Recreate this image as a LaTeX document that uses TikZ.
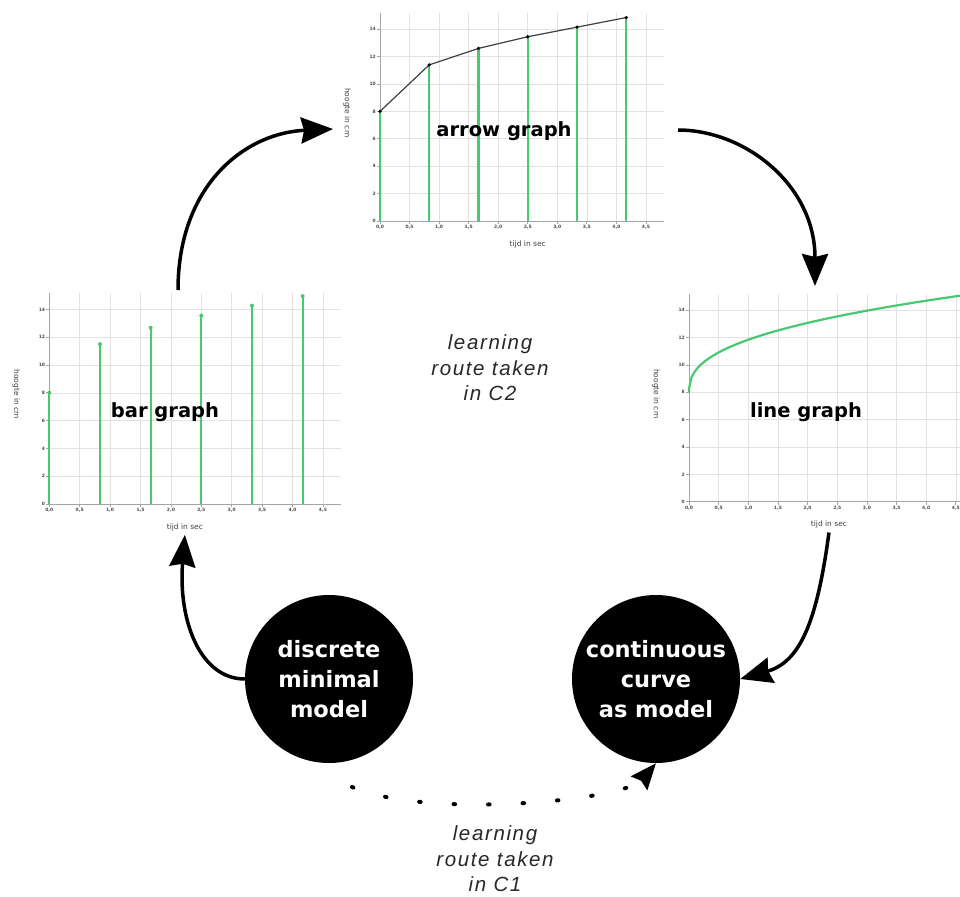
\documentclass[tikz,border=0pt]{standalone}
\usepackage{fontspec}
\setmainfont{DejaVu Sans}
\newfontfamily\routefont[LetterSpace=8.0]{Liberation Sans}
\usetikzlibrary{positioning, arrows.meta}

\definecolor{plotgreen}{RGB}{72,200,112}
\definecolor{gridgray}{RGB}{226,226,226}
\definecolor{axisgray}{RGB}{165,165,165}
\definecolor{routegray}{RGB}{40,40,40}

% grid, axes and tick labels of one small graph
% #1 = x of the axis label, #2 = name of the axis label
\newcommand{\graphframe}[2]{%
  \foreach \gx in {0.5,1,...,4.5}
    \draw[gridline] (\gx,0) -- (\gx,15.2);
  \foreach \gy in {2,4,...,14}
    \draw[gridline] (0,\gy) -- (4.8,\gy);
  \draw[axisline] (0,15.2) -- (0,0) -- (4.8,0);
  \foreach \gx/\gl in {0/{0,0},0.5/{0,5},1/{1,0},1.5/{1,5},2/{2,0},2.5/{2,5},3/{3,0},3.5/{3,5},4/{4,0},4.5/{4,5}} {
    \draw[axisline] (\gx,0) -- +(0,-3pt);
    \node[ticklabel, below=3.5pt] at (\gx,0) {\gl};
  }
  \foreach \gy in {0,2,...,14} {
    \draw[axisline] (0,\gy) -- +(-3pt,0);
    \node[ticklabel, left=3.5pt] at (0,\gy) {\gy};
  }
  \node[axislabel, yshift=-23pt] (#2) at (#1,0) {tijd in sec};
  \node[axislabel, rotate=-90] at ([xshift=-33pt]0,7.9) {hoogte in cm};
}

\begin{document}
\begin{tikzpicture}[
  x=1pt, y=-1pt,
  gridline/.style={gridgray, line width=0.6pt},
  axisline/.style={axisgray, line width=0.8pt},
  ticklabel/.style={font=\fontsize{4.5}{5}\selectfont\bfseries, text=black!70, inner sep=0.5pt},
  axislabel/.style={font=\fontsize{7.5}{8}\selectfont, text=black!75, inner sep=0pt},
  greenbar/.style={plotgreen, line width=2.2pt},
  trendline/.style={black!75, line width=1.2pt},
  graphname/.style={font=\fontsize{19.5}{22}\selectfont\bfseries, inner sep=1pt},
  modelnode/.style={circle, fill=black, minimum size=168pt, inner sep=0pt,
                    align=center, text=white, font=\fontsize{22.5}{30}\selectfont\bfseries},
  routetext/.style={align=center, text=routegray, font=\routefont\fontsize{20.5}{25.5}\selectfont\itshape},
  looparrow/.style={-{Stealth[length=32pt, width=26pt, inset=3pt]}, line width=3.5pt},
  dotroute/.style={-{Stealth[length=26pt, width=21pt, inset=3pt]}, line width=4pt,
                   line cap=round, dash pattern=on 1.5pt off 33pt}
]
  \path[use as bounding box, clip] (0,0) rectangle (960,896);
  \fill[white] (0,0) rectangle (960,896);

  % top: arrow graph
  \begin{scope}[shift={(380,221)}, x=59.1pt, y=13.7pt]
    \graphframe{2.5}{arrowxlabel}
    \foreach \bx/\by in {0/8,0.833/11.4,1.667/12.6,2.5/13.45,3.333/14.15,4.167/14.85}
      \draw[greenbar] (\bx,0) -- (\bx,\by);
    \draw[trendline] (0,8) -- (0.833,11.4) -- (1.667,12.6) -- (2.5,13.45) -- (3.333,14.15) -- (4.167,14.85);
    \foreach \bx/\by in {0/8,0.833/11.4,1.667/12.6,2.5/13.45,3.333/14.15,4.167/14.85}
      \fill[black] (\bx,\by) circle[radius=1.8pt];
  \end{scope}

  % left: bar graph
  \begin{scope}[shift={(49.3,504)}, x=60.8pt, y=13.9pt]
    \graphframe{2.23}{barxlabel}
    \foreach \bx/\by in {0/8,0.833/11.5,1.667/12.68,2.5/13.55,3.333/14.27,4.167/14.96} {
      \draw[greenbar] (\bx,0) -- (\bx,\by);
      \fill[plotgreen] (\bx,\by) circle[radius=2pt];
    }
  \end{scope}

  % right: line graph
  \begin{scope}[shift={(689,501.7)}, x=59.3pt, y=13.67pt]
    \graphframe{2.36}{linexlabel}
    \draw[greenbar] (0,8) -- plot[domain=0.002:4.8, samples=120] (\x,{8+3.85*(\x)^0.4});
  \end{scope}

  \node[graphname] (arrowname) at (504,131) {arrow graph};
  \node[graphname] (barname)   at (165,412) {bar graph};
  \node[graphname] (linename)  at (806,412) {line graph};

  \node[routetext] (routeC2) at (490,368) {learning\\route taken\\in C2};
  \node[routetext] (routeC1) at (495,859) {learning\\route taken\\in C1};

  \node[modelnode] (discrete)   at (329,679) {discrete\\minimal\\model};
  \node[modelnode] (continuous) at (656,679) {continuous\\curve\\as model};

  \coordinate (bartop)   at (178,290);
  \coordinate (arrowin)  at (333,129);
  \coordinate (arrowout) at (678,130);
  \coordinate (linein)   at (815,286);
  \coordinate (c1start)  at (352,787);

  \draw[looparrow] (bartop) .. controls (178,185) and (245,133) .. (arrowin);
  \draw[looparrow] (arrowout) .. controls (745,130) and (815,185) .. (linein);
  \draw[looparrow] ([yshift=-4pt]linexlabel.south) .. controls (817,622) and (800,662) .. (continuous.east);
  \draw[looparrow] (discrete.west) .. controls (200,679) and (178,620) .. ([yshift=-4pt]barxlabel.south);
  \draw[dotroute] (c1start) .. controls (430,820) and (625,800) .. (continuous.south);
\end{tikzpicture}
\end{document}
